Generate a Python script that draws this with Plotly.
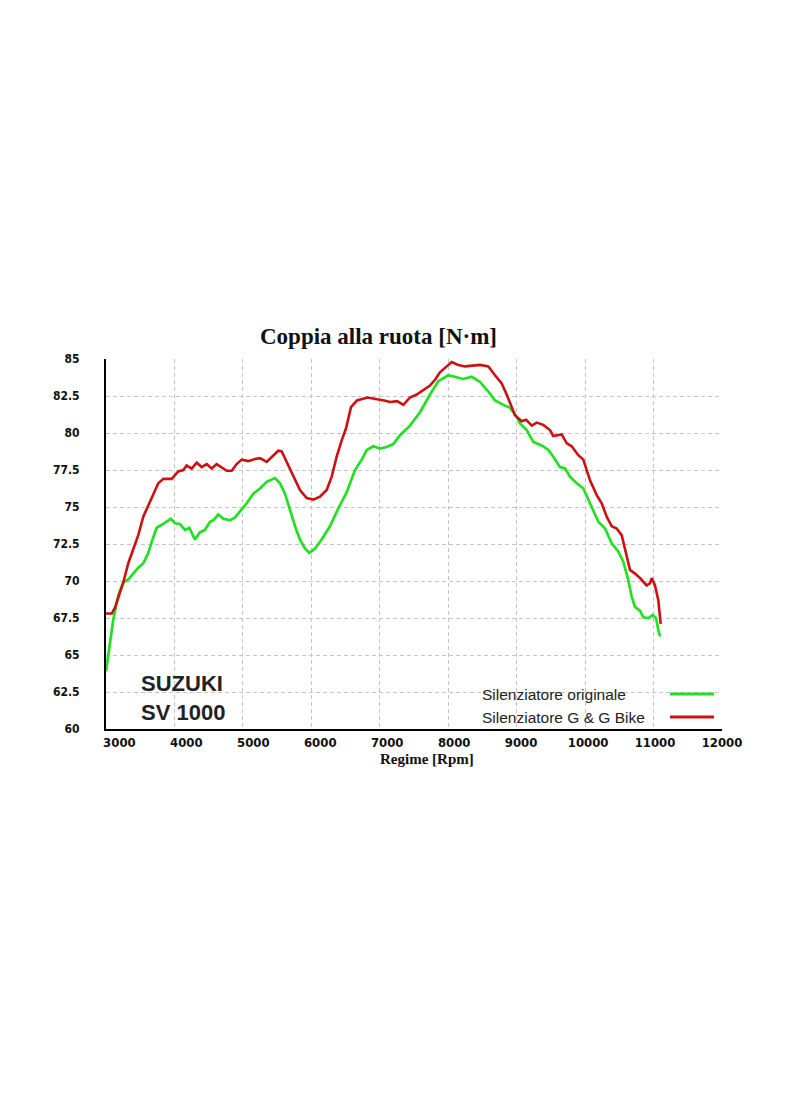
import plotly.graph_objects as go

# Silenziatore G & G Bike (red)
rpm_gg = [2800, 2885, 2934, 2984, 3058, 3133, 3208, 3282, 3357, 3432, 3506, 3581, 3656, 3781,
          3880, 3954, 4005, 4080, 4155, 4229, 4304, 4379, 4453, 4528, 4603, 4677, 4752, 4827,
          4925, 5025, 5100, 5200, 5299, 5373, 5424, 5499, 5597, 5697, 5797, 5896, 5996, 6096,
          6171, 6245, 6320, 6384, 6459, 6549, 6705, 6850, 6952, 7042, 7150, 7240, 7340, 7440,
          7539, 7639, 7714, 7788, 7863, 7963, 8062, 8162, 8386, 8510, 8610, 8710, 8784, 8859,
          8908, 9008, 9073, 9158, 9233, 9331, 9431, 9480, 9606, 9681, 9755, 9854, 9929, 10029,
          10129, 10203, 10278, 10353, 10427, 10502, 10551, 10626, 10701, 10775, 10875, 10925,
          10950, 10999, 11049, 11084]
torque_gg = [67.8, 67.8, 68.2, 68.9, 69.9, 71.2, 72.1, 73.1, 74.35, 75.1, 75.95, 76.6, 76.9, 76.9,
             77.4, 77.5, 77.8, 77.6, 78.0, 77.7, 77.9, 77.6, 77.9, 77.7, 77.45, 77.45, 77.9, 78.2,
             78.1, 78.25, 78.3, 78.05, 78.5, 78.8, 78.75, 78.05, 77.05, 76.15, 75.6, 75.5, 75.7, 76.15,
             77.05, 78.4, 79.5, 80.3, 81.75, 82.2, 82.4, 82.3, 82.2, 82.1, 82.15, 81.9, 82.4, 82.6,
             82.9, 83.2, 83.6, 84.1, 84.4, 84.8, 84.6, 84.5, 84.6, 84.5, 83.9, 83.35, 82.6, 81.7,
             81.2, 80.8, 80.9, 80.5, 80.7, 80.55, 80.2, 79.8, 79.9, 79.3, 79.1, 78.5, 78.2, 76.8,
             75.8, 75.25, 74.35, 73.7, 73.55, 73.1, 72.2, 70.75, 70.5, 70.2, 69.7, 69.85,
             70.2, 69.7, 68.7, 67.1]

# Silenziatore originale (green)
rpm_orig = [2800, 2860, 2909, 2984, 3058, 3133, 3208, 3282, 3357, 3432, 3483, 3557, 3632, 3707,
            3766, 3831, 3905, 3980, 4044, 4129, 4204, 4279, 4353, 4403, 4477, 4552, 4652, 4727,
            4801, 4901, 5000, 5100, 5200, 5324, 5399, 5473, 5548, 5623, 5697, 5772, 5836, 5921,
            6021, 6145, 6269, 6395, 6519, 6619, 6694, 6792, 6892, 6992, 7091, 7191, 7340, 7490,
            7639, 7763, 7912, 8038, 8136, 8262, 8386, 8510, 8610, 8734, 8834, 8934, 8983, 9083,
            9182, 9256, 9331, 9406, 9480, 9580, 9655, 9730, 9830, 9929, 10003, 10078, 10153, 10253,
            10353, 10451, 10526, 10601, 10651, 10701, 10775, 10825, 10899, 10965, 11014, 11049, 11074]
torque_orig = [63.9, 66.0, 67.4, 69.05, 69.9, 70.1, 70.5, 70.9, 71.2, 71.9, 72.65, 73.6, 73.8, 74.0,
               74.2, 73.9, 73.85, 73.45, 73.6, 72.8, 73.3, 73.45, 74.0, 74.1, 74.5, 74.2, 74.1, 74.3,
               74.7, 75.25, 75.9, 76.25, 76.7, 76.95, 76.6, 75.9, 74.8, 73.7, 72.8, 72.2, 71.9, 72.2,
               72.8, 73.7, 74.9, 76.0, 77.5, 78.2, 78.85, 79.1, 78.95, 79.05, 79.25, 79.85, 80.5, 81.4,
               82.6, 83.5, 83.9, 83.75, 83.65, 83.8, 83.45, 82.8, 82.2, 81.9, 81.7, 81.1, 80.65, 80.2,
               79.4, 79.25, 79.1, 78.85, 78.4, 77.7, 77.6, 77.05, 76.6, 76.25, 75.5, 74.8, 74.0, 73.55,
               72.55, 72.0, 71.3, 70.05, 68.95, 68.25, 68.0, 67.55, 67.5, 67.7, 67.5, 66.7, 66.25]

x_ticks = [3000, 4000, 5000, 6000, 7000, 8000, 9000, 10000, 11000, 12000]
x_labels = ["3000", "4000", "5000", "6000", "7000", "8000", "9000", "10000", "11000", "12000"]
y_ticks = [60, 62.5, 65, 67.5, 70, 72.5, 75, 77.5, 80, 82.5, 85]
y_labels = ["60", "62.5", "65", "67.5", "70", "72.5", "75", "77.5", "80", "82.5", "85"]

GREEN = "#22e022"
RED = "#cc1111"
GRID = "#c4c4c4"
NARROW = "Liberation Sans Narrow, Arial Narrow, DejaVu Sans Condensed, Liberation Sans"

fig = go.Figure()
fig.add_trace(go.Scatter(x=rpm_orig, y=torque_orig, mode="lines", name="Silenziatore originale",
                         line=dict(color=GREEN, width=2.7), showlegend=False))
fig.add_trace(go.Scatter(x=rpm_gg, y=torque_gg, mode="lines", name="Silenziatore G & G Bike",
                         line=dict(color=RED, width=2.6), showlegend=False))
# invisible trace to activate the grid overlay axis
fig.add_trace(go.Scatter(x=[0, 9], y=[60, 60], xaxis="x2", mode="lines",
                         line=dict(width=0), hoverinfo="skip", showlegend=False))

fig.update_layout(
    width=800, height=1096,
    margin=dict(l=106, r=78, t=359, b=367),
    paper_bgcolor="white", plot_bgcolor="white",
    xaxis=dict(range=[2800, 12000], tickvals=x_ticks, ticktext=x_labels, showgrid=False,
               zeroline=False, showline=True, linecolor="black", linewidth=2, ticks="",
               tickfont=dict(family=NARROW, size=13, color="#111", weight="bold")),
    xaxis2=dict(range=[0, 9], overlaying="x", dtick=1, showgrid=True, gridcolor=GRID,
                griddash="4px,3px", gridwidth=1, showticklabels=False, ticks="", zeroline=False,
                showline=False, layer="below traces"),
    yaxis=dict(range=[60, 85], tickvals=y_ticks, ticktext=y_labels, showgrid=True,
               gridcolor=GRID, griddash="4px,3px", gridwidth=1, zeroline=False,
               showline=True, linecolor="black", linewidth=2, ticks="", ticklabelstandoff=22,
               tickfont=dict(family=NARROW, size=12, color="#111", weight="bold")),
    showlegend=False,
)

fig.add_annotation(text="Coppia alla ruota [N·m]", xref="paper", yref="paper",
                   x=0.442, y=1.0595, xanchor="center", yanchor="middle", showarrow=False,
                   font=dict(family="Liberation Serif, Times New Roman", size=23, color="#111",
                             weight="bold"))
fig.add_annotation(text="Regime [Rpm]", xref="paper", yref="paper",
                   x=0.521, y=-0.081, xanchor="center", yanchor="middle", showarrow=False,
                   font=dict(family="Liberation Serif, Times New Roman", size=15, color="#111",
                             weight="bold"))
fig.add_annotation(text="SUZUKI<br>SV 1000", xref="paper", yref="paper",
                   x=(139 - 106) / 616, y=0.085, xanchor="left", yanchor="middle", align="left",
                   showarrow=False,
                   font=dict(family="Liberation Sans, Arial", size=22, color="#222", weight="bold"))

legend_items = [("Silenziatore originale", GREEN, 694), ("Silenziatore G & G Bike", RED, 717)]
for label, color, py in legend_items:
    yp = (729 - py) / 370
    fig.add_annotation(text=label, xref="paper", yref="paper", x=(480 - 106) / 616, y=yp,
                       xanchor="left", yanchor="middle", showarrow=False,
                       font=dict(family="Liberation Sans, Arial", size=15.5, color="#222"))
    fig.add_shape(type="line", xref="paper", yref="paper", x0=(670 - 106) / 616,
                  x1=(714 - 106) / 616, y0=yp, y1=yp, line=dict(color=color, width=3))

fig.write_html("out.html")
